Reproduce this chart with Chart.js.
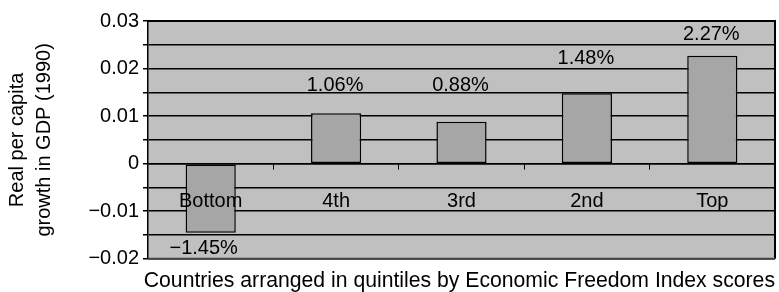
<!DOCTYPE html>
<html lang="en">

<head>
    <meta charset="UTF-8" />
    <title>Growth by economic freedom quintile</title>
    <script src="https://cdn.jsdelivr.net/npm/chart.js@4.4.1/dist/chart.umd.min.js"></script>
    <style>
        body { margin: 0; background: #fff; }
    </style>
</head>

<body>
    <canvas id="myChart" width="779" height="292"></canvas>

    <script>
        // quintiles, worst to best
        const quintiles = ['Bottom', '4th', '3rd', '2nd', 'Top'];
        const growth = [-0.0145, 0.0106, 0.0088, 0.0148, 0.0227];
        // y ticks every 0.005, only whole hundredths get a label
        const yMin = -0.02;
        const yMax = 0.03;
        const yStep = 0.005;

        // how far each value label sits from the end of its bar (px)
        const labelGap = [16, 28, 36, 35, 21];

        const FONT = "'Liberation Sans', Arial, Helvetica, sans-serif";

        function pct(v) {
            return (v * 100).toFixed(2).replace('-', '\u2212') + '%';
        }

        const plotBg = {
            id: 'plotBg',
            beforeDraw(chart) {
                const { ctx, chartArea: a } = chart;
                ctx.save();
                ctx.fillStyle = '#c0c0c0';
                ctx.fillRect(a.left, a.top, a.right - a.left, a.bottom - a.top);
                ctx.restore();
            },
            afterDraw(chart) {
                const { ctx, chartArea: a } = chart;
                ctx.save();
                ctx.lineWidth = 2;
                ctx.strokeStyle = '#000';
                ctx.beginPath();
                ctx.moveTo(a.left, a.top);
                ctx.lineTo(a.right, a.top);
                ctx.lineTo(a.right, a.bottom);
                ctx.stroke();
                ctx.strokeStyle = '#444';
                ctx.beginPath();
                ctx.moveTo(a.left, a.bottom);
                ctx.lineTo(a.right, a.bottom);
                ctx.stroke();
                ctx.restore();
            }
        };

        const valueLabels = {
            id: 'valueLabels',
            afterDatasetsDraw(chart) {
                const { ctx } = chart;
                const meta = chart.getDatasetMeta(0);
                ctx.save();
                ctx.font = '20px ' + FONT;
                ctx.fillStyle = '#000';
                ctx.textAlign = 'center';
                ctx.textBaseline = 'middle';
                meta.data.forEach((bar, i) => {
                    const v = growth[i];
                    const y = v < 0 ? bar.y + labelGap[i] : bar.y - labelGap[i];
                    ctx.fillText(pct(v), bar.x - (v < 0 ? 7 : 1), y);
                });
                ctx.restore();
            }
        };

        const ctx = document.getElementById('myChart').getContext('2d');
        const myChart = new Chart(ctx, {
            type: 'bar',
            data: {
                labels: quintiles,
                datasets: [{
                    data: growth,
                    backgroundColor: '#a6a6a6',
                    borderColor: '#000',
                    borderWidth: 1.5,
                    borderSkipped: false,
                    barPercentage: 0.4,
                    categoryPercentage: 1
                }]
            },
            plugins: [plotBg, valueLabels],
            options: {
                responsive: false,
                animation: false,
                layout: { padding: { top: 21, right: 4, left: 0 } },
                plugins: {
                    legend: { display: false },
                    tooltip: { enabled: false },
                    title: {
                        display: true,
                        position: 'bottom',
                        align: 'end',
                        text: 'Countries arranged in quintiles by Economic Freedom Index scores',
                        color: '#000',
                        font: { family: FONT, size: 21.2, weight: 'normal', lineHeight: 1 },
                        padding: { top: 12, bottom: 0 }
                    }
                },
                scales: {
                    x: {
                        position: { y: 0 },
                        offset: true,
                        grid: {
                            display: true,
                            offset: true,
                            drawOnChartArea: false,
                            drawTicks: true,
                            tickLength: 5,
                            color: '#000',
                            lineWidth: 1
                        },
                        border: { display: true, color: '#000', width: 1.5 },
                        ticks: {
                            z: 1,
                            color: '#000',
                            padding: 21,
                            font: { family: FONT, size: 20 }
                        }
                    },
                    y: {
                        min: yMin,
                        max: yMax,
                        afterFit(scale) { scale.width = 148; },
                        grid: {
                            color: '#000',
                            lineWidth: 1.5,
                            tickLength: 5,
                            drawTicks: true
                        },
                        border: { display: true, color: '#000', width: 1.5 },
                        ticks: {
                            stepSize: yStep,
                            autoSkip: false,
                            color: '#000',
                            padding: 4,
                            font: { family: FONT, size: 20 },
                            callback: function (value) {
                                const h = Math.round(value * 1000);
                                if (h % 10 !== 0) return '';
                                if (h === 0) return '0';
                                return value.toFixed(2).replace('-', '\u2212');
                            }
                        },
                        title: {
                            display: true,
                            text: ['Real per capita', 'growth in GDP (1990)'],
                            color: '#000',
                            font: { family: FONT, size: 20, lineHeight: 1.35 },
                            padding: { top: 4, bottom: 0 }
                        }
                    }
                }
            }
        });
    </script>
</body>

</html>
